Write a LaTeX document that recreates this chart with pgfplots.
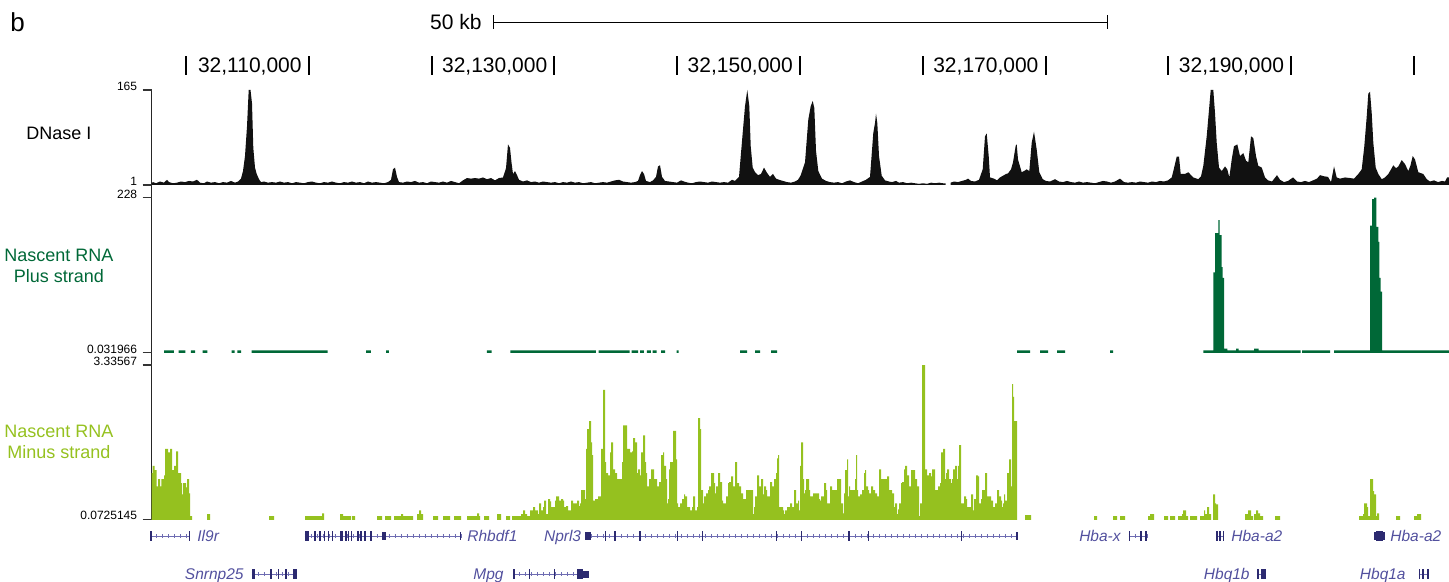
\documentclass[border=0pt]{standalone}
\usepackage{fontspec}
\setmainfont{Liberation Sans}
\usepackage{pgfplots}
\pgfplotsset{compat=1.18}
\definecolor{dnase}{RGB}{17,17,17}
\definecolor{plusc}{RGB}{0,104,55}
\definecolor{minusc}{RGB}{149,193,31}
\definecolor{genec}{RGB}{44,42,112}
\definecolor{genet}{RGB}{82,80,158}
\definecolor{genel}{RGB}{110,108,178}
\newcommand{\ex}[4]{\addplot[draw=none,fill=genec,forget plot] coordinates {(#1,#3)(#2,#3)(#2,#4)(#1,#4)} --cycle;}
\newcommand{\intr}[3]{\addplot[genel,line width=0.5pt,forget plot] coordinates {(#1,#3)(#2,#3)};
  \addplot[genel,line width=2.2pt,dash pattern=on 0.4pt off 2.6pt,forget plot] coordinates {(#1,#3)(#2,#3)};}
\newcommand{\rtick}[1]{\addplot[black,line width=1pt,forget plot] coordinates {(#1,56)(#1,75)};}
\pgfplotsset{track/.style={scale only axis, width=648.75pt, xmin=151.5, xmax=1449,
  axis x line=none, axis y line*=left, y axis line style={draw=none}, x axis line style={draw=none},
  tick align=outside, major tick length=4.5pt,
  ytick style={line width=0.6pt, draw=black!80},
  yticklabel style={font=\fontsize{6}{7}\selectfont, anchor=south east, inner sep=0pt, yshift=-0.5pt, xshift=-2.5pt}}}
\begin{document}
\begin{tikzpicture}
\useasboundingbox (0,0) rectangle (724.5pt,-291pt);
% ---------- overlay: ruler, scale bar, labels, genes ----------
\begin{axis}[at={(75.75pt,-291pt)},anchor=south west,scale only axis,width=648.75pt,height=291pt,
  xmin=151.5,xmax=1449,ymin=0,ymax=582,y dir=reverse,hide axis,clip=false]
\node[anchor=base west,inner sep=0pt,font=\fontsize{13}{15}\selectfont] at (axis cs:10,32) {b};
\node[anchor=base east,inner sep=0pt,font=\fontsize{10.5}{12}\selectfont] at (axis cs:482,29) {50 kb};
\addplot[black,line width=0.5pt,forget plot] coordinates {(493,22)(1107,22)};
\addplot[black,line width=0.5pt,forget plot] coordinates {(493,15)(493,29)};
\addplot[black,line width=0.5pt,forget plot] coordinates {(1107,15)(1107,29)};
\rtick{186}\rtick{308.8}\rtick{431.6}\rtick{554.4}\rtick{677.2}\rtick{800}
\rtick{922.8}\rtick{1045.6}\rtick{1168.4}\rtick{1291.2}\rtick{1414}
\begin{scope}[every node/.style={anchor=base east,inner sep=0pt,font=\fontsize{10.5}{12}\selectfont}]
\node at (axis cs:302,72) {32,110,000};
\node at (axis cs:547.6,72) {32,130,000};
\node at (axis cs:793.2,72) {32,150,000};
\node at (axis cs:1038.8,72) {32,170,000};
\node at (axis cs:1284.4,72) {32,190,000};
\end{scope}
% track labels
\node[anchor=base,font=\fontsize{9}{10}\selectfont] at (axis cs:59,139) {DNase I};
\node[anchor=base,font=\fontsize{9}{10}\selectfont,text=plusc] at (axis cs:59,261.5) {Nascent RNA};
\node[anchor=base,font=\fontsize{9}{10}\selectfont,text=plusc] at (axis cs:59,282.5) {Plus strand};
\node[anchor=base,font=\fontsize{9}{10}\selectfont,text=minusc] at (axis cs:59,437.3) {Nascent RNA};
\node[anchor=base,font=\fontsize{9}{10}\selectfont,text=minusc] at (axis cs:59,458.8) {Minus strand};
% left axis line
\addplot[black!85,line width=0.75pt,forget plot] coordinates {(151.5,90)(151.5,519.3)};
% ---------- genes row 1 ----------
\intr{150.4}{190}{536}
\ex{150.4}{151.8}{531}{541}\ex{188.6}{190}{531}{541}
\intr{304.6}{461.2}{536}
\ex{304.6}{309.2}{531}{541}
\ex{314.3}{315.8}{531}{541}\ex{319.3}{320.8}{531}{541}\ex{323.9}{325.4}{531}{541}
\ex{327.8}{329.3}{531}{541}\ex{331.6}{333.1}{531}{541}\ex{340}{342.7}{531}{541}
\ex{345.1}{346.6}{531}{541}\ex{347.8}{349.3}{531}{541}\ex{350.8}{352.3}{531}{541}
\ex{357.3}{358.8}{531}{541}\ex{360.3}{361.8}{531}{541}\ex{364.3}{365.8}{531}{541}
\ex{370.1}{371.6}{531}{541}\ex{382.3}{386.2}{532}{540}\ex{459.5}{461.2}{532}{540}
\intr{585.4}{1018}{536}
\ex{585.4}{590.8}{532}{540}
\ex{604.7}{606.1}{531}{541}\ex{614.3}{615.7}{531}{541}\ex{639.3}{640.7}{531}{541}
\ex{677}{678.4}{531}{541}\ex{701.6}{703}{531}{541}\ex{775.7}{777.1}{531}{541}
\ex{800.7}{802.1}{531}{541}\ex{848.3}{849.7}{531}{541}\ex{867.5}{868.9}{531}{541}
\ex{960.7}{962.1}{531}{541}\ex{1016}{1018}{532}{540}
\intr{1128.6}{1146.8}{536}
\ex{1128.6}{1130}{531}{541}\ex{1140}{1142}{531}{541}\ex{1144.5}{1146.8}{531}{541}
\addplot[genel,line width=0.5pt,forget plot] coordinates {(1216,536)(1224,536)};
\ex{1216}{1217.5}{531}{541}\ex{1219}{1220.5}{531}{541}\ex{1222.5}{1224}{531}{541}
\ex{1374}{1376}{532}{540}\ex{1376}{1382.5}{531}{541}\ex{1382.5}{1384.5}{532}{540}
% ---------- genes row 2 ----------
\intr{251.5}{297}{574}
\ex{251.5}{255.4}{569}{579}\ex{270.1}{271.5}{569}{579}\ex{277.8}{279.2}{569}{579}
\ex{285.3}{286.7}{569}{579}\ex{293}{297}{569}{579}
\intr{513}{589.2}{574}
\ex{513}{514.5}{569}{579}\ex{528.5}{529.9}{569}{579}\ex{553.5}{554.9}{569}{579}
\ex{576.5}{583}{569}{579}\ex{583}{589.2}{570.5}{577.5}
\addplot[genel,line width=0.5pt,forget plot] coordinates {(1256.8,574)(1266,574)};
\ex{1256.8}{1259}{569}{579}\ex{1261}{1266}{569}{579}
\addplot[genel,line width=0.5pt,forget plot] coordinates {(1418.6,574)(1428.6,574)};
\ex{1418.6}{1420}{569}{579}\ex{1422}{1424}{569}{579}\ex{1426.5}{1428.6}{569}{579}
% gene labels
\begin{scope}[every node/.style={inner sep=0pt,font=\fontsize{7.75}{9}\selectfont\itshape,text=genet}]
\node[anchor=base west] at (axis cs:197,541.5) {Il9r};
\node[anchor=base west] at (axis cs:467,541.5) {Rhbdf1};
\node[anchor=base east] at (axis cs:581.5,541.5) {Nprl3};
\node[anchor=base east] at (axis cs:1121,541.5) {Hba-x};
\node[anchor=base west] at (axis cs:1231,541.5) {Hba-a2};
\node[anchor=base west] at (axis cs:1390,541.5) {Hba-a2};
\node[anchor=base east] at (axis cs:244,579.5) {Snrnp25};
\node[anchor=base east] at (axis cs:504,579.5) {Mpg};
\node[anchor=base east] at (axis cs:1250,579.5) {Hbq1b};
\node[anchor=base east] at (axis cs:1406,579.5) {Hbq1a};
\end{scope}
\end{axis}
% ---------- DNase I ----------
\begin{axis}[track,at={(75.75pt,-92.5pt)},anchor=south west,height=47.5pt,ymin=1,ymax=165,ytick={1,165},yticklabels={1,165}]
\addplot[fill=dnase,draw=none] coordinates {
(151.5,-5)(151.5,4)(153,6)(156,4)(160,7)(164,5)(167,10)(169,6)(173,4)(177,5)(181,7)(185,6)(189,8)(193,7)(197,10)(200,5)(204,4)(207,7)(211,5)(215,6)(219,4)(223,6)(227,5)(231,8)(235,5)(238,7)(241,12)(243,25)(245,51)(247,102)(248.7,165)(250.5,165)(252,142)(253.3,65)(255,31)(256.7,20)(259,11)(261,6)(264,7)(268,5)(272,6)(276,5)(280,7)(284,5)(288,6)(292,4)(296,6)(300,5)(304,4)(308,6)(312,7)(316,5)(320,4)(324,6)(328,5)(332,7)(336,5)(340,4)(344,6)(348,5)(352,7)(356,5)(360,6)(364,4)(368,7)(372,5)(376,6)(380,5)(384,4)(388,6)(391,10)(393,28)(395,31)(397,15)(399,6)(403,5)(407,7)(411,6)(415,8)(419,5)(423,6)(427,4)(431,7)(435,6)(439,5)(443,7)(447,5)(451,8)(455,6)(459,4)(463,9)(467,13)(471,12)(475,13)(479,12)(483,14)(487,11)(491,13)(495,9)(499,13)(503,14)(506,30)(508,71)(510,65)(511.5,40)(513,20)(515,25)(517,18)(519,10)(523,7)(527,9)(531,6)(535,7)(539,5)(543,7)(547,6)(551,5)(555,6)(559,4)(563,6)(567,5)(571,7)(575,5)(579,6)(583,4)(587,5)(591,6)(595,4)(599,5)(603,6)(607,5)(611,7)(615,9)(619,10)(623,7)(627,6)(631,5)(635,6)(638,8)(640,18)(642,25)(644,20)(646,8)(650,6)(653,9)(656,15)(658,33)(660,35)(662,15)(665,8)(669,7)(673,6)(677,5)(681,9)(684,7)(688,5)(692,4)(696,6)(700,7)(704,6)(708,5)(712,7)(716,6)(720,5)(724,6)(728,5)(732,10)(735,8)(739,15)(742.7,91)(745,137)(747.3,165)(749.3,137)(750.7,68)(752.7,31)(755,23)(758,18)(761,20)(764,31)(767,22)(770,15)(773,20)(776,12)(779,10)(783,8)(787,6)(791,5)(795,7)(798,10)(800.5,17)(802.7,28)(805,40)(808.3,114)(810.7,137)(812.7,146)(814.3,134)(816,60)(818.3,25)(822,12)(826,8)(830,6)(834,5)(838,6)(842,4)(846,7)(850,9)(854,6)(858,4)(862,7)(866,10)(870,15)(873.3,91)(875,108)(876,124)(877.3,108)(879,51)(881.7,17)(885,9)(889,7)(892,6)(896,8)(899,5)(903,6)(907,4)(911,5)(915,4)(919,3)(923,4)(927,3)(931,5)(935,4)(939,5)(943,4)(945.5,4)(945.5,-5)(950.5,-5)(950.5,5)(954,7)(958,6)(962,8)(966,10)(968,12)(971,8)(975,7)(979,10)(982.7,28)(985,85)(986.7,90)(988.7,51)(990,14)(994,12)(997,9)(1000,14)(1003,17)(1006,20)(1008,21)(1011,28)(1013,40)(1015.7,69)(1016.7,71)(1018,45)(1021.7,23)(1024,25)(1026.7,28)(1029.3,25)(1031.7,74)(1034,93)(1036.7,62)(1039.3,23)(1042.7,11)(1046,8)(1050,7)(1055,11)(1059,7)(1063,6)(1067,8)(1071,6)(1075,5)(1079,7)(1083,5)(1087,6)(1091,5)(1095,4)(1099,6)(1103,8)(1107,7)(1111,5)(1115,7)(1120,12)(1124,6)(1128,5)(1132,6)(1136,5)(1140,7)(1144,6)(1148,5)(1152,7)(1156,6)(1160,8)(1164,7)(1168,9)(1171.7,14)(1174,30)(1176.7,50)(1179,50)(1180.7,20)(1185,20)(1188.3,23)(1193.3,14)(1198.3,11)(1201,16)(1203.3,34)(1206.7,85)(1209.3,137)(1210.7,165)(1213.3,165)(1215,125)(1216.7,74)(1219,31)(1221.7,25)(1225,33)(1227.3,28)(1229.3,14)(1231.7,45)(1234,68)(1237.3,71)(1240,51)(1243.3,56)(1246,43)(1248.3,40)(1251,85)(1253.3,82)(1256,51)(1258.3,34)(1261.7,31)(1265,14)(1268,9)(1272,7)(1277,18)(1280,10)(1284,6)(1288,8)(1293,14)(1297,7)(1301,6)(1305,8)(1309,6)(1313,9)(1317,12)(1320,18)(1324,16)(1328,15)(1331,6)(1334,33)(1336.7,14)(1340,12)(1345,14)(1350,13)(1354,12)(1358.3,20)(1361.7,28)(1364.3,68)(1366.7,119)(1368.3,159)(1370,162)(1371.7,125)(1373.3,74)(1375.7,31)(1378.3,20)(1381.7,11)(1385,14)(1388.3,20)(1391,28)(1393.3,35)(1396,30)(1398.3,33)(1401.7,44)(1405,37)(1408.3,25)(1410.5,35)(1412.7,51)(1415,45)(1418.3,23)(1423.3,20)(1426.7,11)(1430,7)(1434,9)(1438,6)(1442,8)(1445,7)(1447,14)(1449,14)(1449,-5)
} --cycle;
\end{axis}
% ---------- Nascent RNA plus ----------
\begin{axis}[track,at={(75.75pt,-176.35pt)},anchor=south west,height=77.5pt,ymin=0.031966,ymax=228,ytick={0.031966,228},yticklabels={0.031966,228}]
\addplot[const plot mark left,fill=plusc,draw=none] coordinates {
(151.5,-20)(164.2,3.5)(173.8,-20)(178.5,3.5)(185.4,-20)(190.8,3.5)(195,-20)(202.7,3.5)(207.3,-20)(231.5,3.5)(234.6,-20)(237.3,3.5)(241.2,-20)(251.5,3.5)(327.7,-20)(366.2,3.5)(370.8,-20)(386.2,3.5)(388.8,-20)(486.9,3.5)(491.5,-20)(510.4,3.5)(595.8,-20)(598.5,3.5)(629.6,-20)(631.5,3.5)(638,-20)(640,3.5)(643.8,-20)(646.9,3.5)(650.8,-20)(652.7,3.5)(656.5,-20)(661.2,3.5)(665,-20)(676.5,3.5)(678.5,-20)(740,3.5)(747,-20)(755,3.5)(760,-20)(771,3.5)(777,-20)(1017,3.5)(1030,-20)(1040,3.5)(1048,-20)(1057,3.5)(1065,-20)(1110,3.5)(1113,-20)(1203.3,3.5)(1213.3,118)(1215,176)(1218.3,195)(1219.7,173)(1221.7,126)(1222.7,110)(1224,6)(1227.3,3.5)(1236,6)(1238.7,3.5)(1254,6)(1258.7,3.5)(1300.7,-20)(1302,3.5)(1330,-20)(1334,3.5)(1370,187)(1372,226)(1374,228)(1376.3,185)(1378.3,163)(1379.3,110)(1380.7,90)(1382,3.5)(1449,-20)
} --cycle;
\end{axis}
% ---------- Nascent RNA minus ----------
\begin{axis}[track,at={(75.75pt,-259.65pt)},anchor=south west,height=77.15pt,ymin=0.0725145,ymax=3.33567,ytick={0.0725145,3.33567},yticklabels={0.0725145,3.33567}]
\addplot[const plot mark left,fill=minusc,draw=none] coordinates {
(150,-1)(150,1.05)(152.7,1.20)(154.7,1.11)(156.7,0.77)(158,0.92)(160,0.77)(161.3,0.92)(164,1.00)(165,1.56)(168,1.49)(170,1.56)(172,1.11)(174,1.20)(176,1.51)(178,1.05)(181,0.84)(182,0.60)(183,0.84)(186,0.75)(187,0.92)(189,0.62)(190,0.14)(192,-1)
(207,0.18)(210,-1)(269,0.14)(274,-1)(305,0.14)(322,0.20)(324,-1)(340,0.18)(343,0.14)(351,-1)(352,0.14)(355,-1)(377,0.14)(382,-1)(385,0.14)(391,-1)(394,0.14)(401,0.18)(403,0.14)(413,-1)(417,0.18)(419,0.26)(421,0.18)(423,-1)(433,0.14)(438,-1)(443,0.14)(450,-1)(454,0.14)(461,-1)(467,0.14)(477,0.20)(479,0.14)(480,-1)(484,0.14)(489,-1)(497,0.18)(501,-1)(506,0.14)(510,-1)(512,0.14)(521,0.18)(523,0.26)(525,0.18)(527,0.14)
(530,0.26)(533,0.33)(535,0.26)(538,0.18)(539,0.41)(541,0.26)(543,0.33)(544,0.47)(546,0.18)(548,0.50)(550,0.45)(551,0.33)(555,0.47)(556,0.56)(559,0.47)(561,0.50)(563,0.47)(564,0.33)(566,0.35)(568,0.26)(571,0.47)(573,0.41)(577,0.47)(579,0.35)(580,0.41)(581,0.69)(585,0.50)(586,1.56)(587,1.98)(589,2.15)(591,1.70)(592,1.43)(593,0.47)(595,0.50)(598,0.56)(601,1.56)(603,2.81)(605,1.28)(606,1.05)(608,1.00)(610,1.49)(611,1.70)(613,1.13)(615,1.05)(617,0.92)(622,1.28)(623,2.06)(627,1.56)(630,1.49)(632,1.51)(633,1.79)(635,1.70)(637,1.05)(638,1.13)(640,1.00)(641,1.49)(643,1.85)(645,1.28)(646,1.05)(647,0.77)(649,0.92)(651,1.13)(654,0.92)(657,0.77)(659,0.86)(661,1.43)(663,1.49)(664,1.20)(666,0.92)(667,0.41)(668,0.50)(669,1.13)(670,1.28)(673,1.94)(676,1.34)(677,0.41)(678,0.33)(680,0.41)(682,0.50)(684,0.60)(685,0.56)(687,0.33)(690,0.26)(692,0.33)(693,0.56)(695,0.26)(697,0.33)(698,2.21)(700,1.98)(701,0.69)(703,0.41)(704,0.56)(706,0.62)(708,0.69)(709,0.77)(711,1.05)(714,0.84)(715,0.62)(716,0.77)(718,1.05)(720,0.86)(722,0.47)(723,0.41)(726,0.56)(728,0.84)(729,0.86)(731,0.98)(733,0.77)(735,1.28)(737,0.84)(739,0.77)(741,0.62)(743,0.50)(746,0.69)(753,0.18)(754,0.33)(755,0.56)(757,1.00)(759,0.77)(761,0.92)(763,0.60)(764,0.77)(766,0.69)(767,0.56)(770,0.86)(772,0.77)(774,0.92)(776,1.05)(777,1.36)(778,1.43)(779,0.33)(783,0.26)(784,0.18)(785,0.26)(787,0.33)(790,0.41)(792,0.33)(794,0.69)(796,0.41)(798,0.47)(799,0.26)(800,1.20)(801,1.70)(803,0.92)(804,0.62)(805,0.69)(806,0.92)(809,0.69)(810,0.56)(813,0.62)(819,0.50)(820,0.47)(821,0.56)(824,0.84)(826,0.69)(827,0.41)(830,0.77)(832,0.69)(837,0.92)(841,0.41)(843,0.20)(844,0.62)(845,1.11)(847,1.34)(848,0.56)(849,0.77)(850,0.69)(855,0.92)(856,1.43)(857,0.69)(858,0.56)(860,0.60)(862,0.69)(864,1.05)(865,1.11)(866,0.77)(868,0.69)(869,0.62)(871,0.77)(873,0.69)(875,0.62)(877,0.56)(879,1.13)(881,0.92)(887,0.98)(889,0.69)(892,0.62)(894,0.33)(895,0.41)(897,0.18)(898,0.28)(899,0.41)(901,0.84)(902,0.86)(904,1.13)(905,1.20)(907,1.00)(909,0.77)(911,1.11)(915,0.92)(917,0.77)(919,0.14)(920,0.41)(922,3.34)(925,1.13)(927,1.00)(929,1.05)(931,0.98)(932,1.13)(935,0.69)(938,0.77)(940,0.84)(941,1.49)(943,1.56)(945,0.92)(946,1.05)(947,1.13)(949,0.92)(951,0.84)(952,0.92)(953,1.13)(955,1.20)(957,0.92)(958,1.20)(959,1.64)(961,0.41)(964,0.56)(966,0.50)(967,0.33)(971,0.60)(973,0.26)(974,0.50)(976,1.00)(978,0.98)(979,0.41)(981,0.50)(982,0.69)(985,1.05)(987,0.56)(991,0.47)(993,0.33)(995,0.41)(997,0.69)(999,0.56)(1001,0.47)(1002,0.33)(1003,0.41)(1004,0.60)(1005,0.47)(1007,1.05)(1009,1.34)(1011,0.77)(1012,2.93)(1013,2.66)(1014,2.15)(1017,-1)
(1025,0.16)(1031,-1)(1094,0.14)(1097,-1)(1113,0.14)(1117,-1)(1120,0.14)(1125,-1)(1148,0.14)(1150,0.18)(1154,-1)(1164,0.14)(1168,-1)(1170,0.14)(1175,-1)(1178,0.14)(1182,0.18)(1183,0.26)(1186,0.14)(1188,-1)(1190,0.14)(1197,-1)(1200,0.14)(1204,0.26)(1205,0.18)(1207,0.33)(1209,0.18)(1211,-1)(1213,0.60)(1215,0.41)(1216,0.39)(1218,-1)(1245,0.18)(1248,0.26)(1251,0.14)(1253,-1)(1254,0.18)(1256,0.26)(1258,0.20)(1260,0.14)(1263,-1)(1275,0.14)(1280,-1)(1359,0.14)(1363,0.18)(1364,0.41)(1367,0.33)(1368,0.14)(1370,0.92)(1373,0.67)(1374,0.60)(1376,0.14)(1377,0.20)(1379,-1)(1396,0.14)(1400,-1)(1414,0.14)(1417,0.18)(1421,-1)(1449,-1)
} --cycle;
\end{axis}
\end{tikzpicture}
\end{document}
